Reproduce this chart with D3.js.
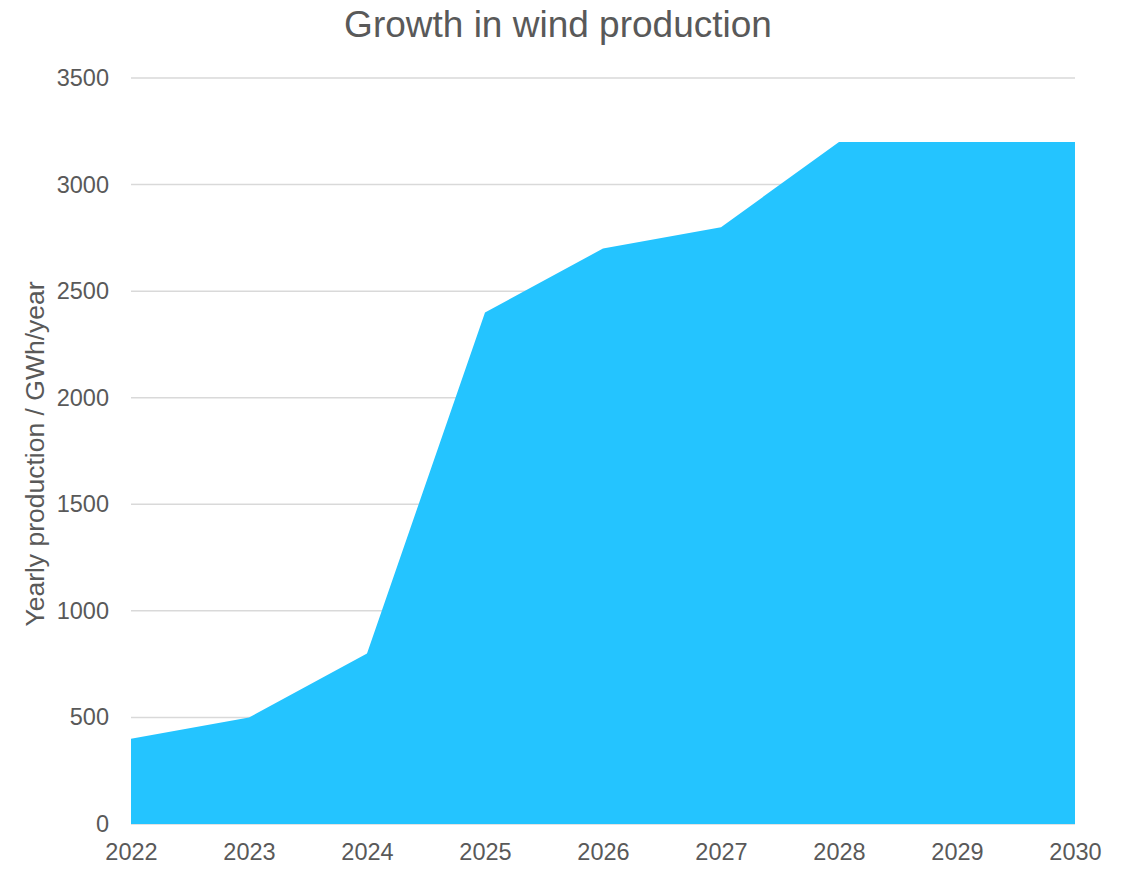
<!DOCTYPE html>
<html>
<head>
<meta charset="utf-8">
<script src="https://cdn.jsdelivr.net/npm/d3@7"></script>
<style>
  body { margin: 0; background: #fff; }
  text { font-family: "Liberation Sans", Arial, sans-serif; fill: #595959; }
</style>
</head>
<body>
<svg id="chart"></svg>
<script>
(function() {

const years = [2022, 2023, 2024, 2025, 2026, 2027, 2028, 2029, 2030];
const production = [400, 500, 800, 2400, 2700, 2800, 3200, 3200, 3200];
const yTicks = [0, 500, 1000, 1500, 2000, 2500, 3000, 3500];

const width = 1127;
const height = 869;
const margin = {top: 78, right: 52, bottom: 45, left: 131};

const svg = d3.select("#chart")
    .attr("width", width)
    .attr("height", height);

const x = d3.scaleLinear()
    .domain([2022, 2030])
    .range([margin.left, width - margin.right]);

const y = d3.scaleLinear()
    .domain([0, 3500])
    .range([height - margin.bottom, margin.top]);

// gridlines
svg.append("g")
    .selectAll("line")
    .data(yTicks)
    .join("line")
    .attr("x1", margin.left)
    .attr("x2", width - margin.right)
    .attr("y1", d => y(d))
    .attr("y2", d => y(d))
    .attr("stroke", "#d9d9d9")
    .attr("stroke-width", 1.5);

const data = years.map((yr, i) => ({year: yr, value: production[i]}));

const area = d3.area()
    .x(d => x(d.year))
    .y0(y(0))
    .y1(d => y(d.value));

svg.append("path")
    .datum(data)
    .attr("d", area)
    .attr("fill", "#24C4FF");

// y axis labels
const yAxis = d3.axisLeft(y).tickValues(yTicks).tickFormat(d3.format("d")).tickSize(0).tickPadding(22);
svg.append("g")
    .attr("transform", `translate(${margin.left},0)`)
    .call(yAxis)
    .call(g => g.select(".domain").remove())
    .selectAll("text")
    .attr("font-size", "23.5px")
    .attr("fill", "#595959");

// x axis labels
const xAxis = d3.axisBottom(x).tickValues(years).tickFormat(d3.format("d")).tickSize(0).tickPadding(19);
svg.append("g")
    .attr("transform", `translate(0,${y(0)})`)
    .call(xAxis)
    .call(g => g.select(".domain").remove())
    .selectAll("text")
    .attr("font-size", "23.5px")
    .attr("fill", "#595959");

// title
svg.append("text")
    .attr("x", 558)
    .attr("y", 37)
    .attr("text-anchor", "middle")
    .attr("font-size", "37px")
    .text("Growth in wind production");

// y label
svg.append("text")
    .attr("transform", `translate(44,454) rotate(-90)`)
    .attr("text-anchor", "middle")
    .attr("font-size", "26.5px")
    .text("Yearly production / GWh/year");

})();
</script>
</body>
</html>
